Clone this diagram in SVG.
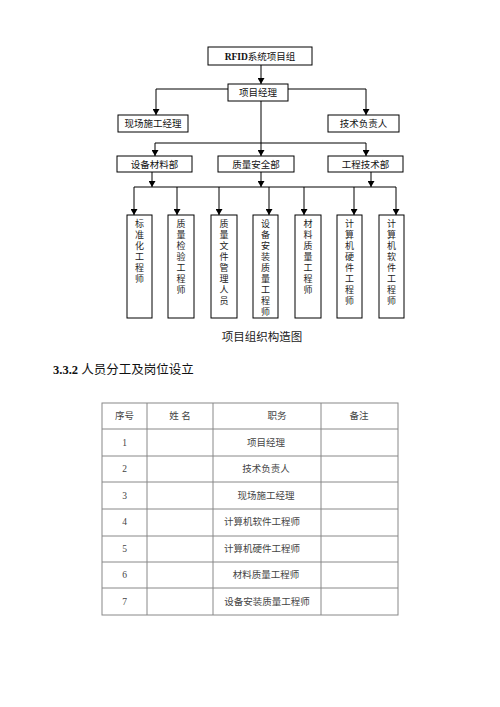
<svg xmlns="http://www.w3.org/2000/svg" width="500" height="707" viewBox="0 0 500 707">
<defs>
<marker id="ah" markerWidth="6" markerHeight="7" refX="6" refY="3.5" orient="auto" markerUnits="userSpaceOnUse">
<path d="M0,0 L6,3.5 L0,7 Z" fill="#000"/>
</marker>
<style>
.box{fill:#fff;stroke:#000;stroke-width:1}
.t{font-family:"Liberation Serif","Noto Sans CJK SC",serif;font-size:9.5px;fill:#111;text-anchor:middle}
.v{font-family:"Noto Sans CJK SC",serif;font-size:9px;fill:#222;writing-mode:vertical-rl;letter-spacing:2px}
.c{stroke:#000;stroke-width:1;fill:none}
.a{stroke:#000;stroke-width:1;fill:none;marker-end:url(#ah)}
.tb{stroke:#888;stroke-width:1;fill:none}
.tt{font-family:"Liberation Serif","Noto Sans CJK SC",serif;font-size:9.5px;fill:#444;text-anchor:middle}
</style>
</defs>
<rect width="500" height="707" fill="#fff"/>
<g id="connectors">
<line class="a" x1="261" y1="65" x2="261" y2="84"/>
<line class="c" x1="156" y1="89" x2="366" y2="89"/>
<line class="a" x1="156" y1="89" x2="156" y2="115"/>
<line class="a" x1="366" y1="89" x2="366" y2="115"/>
<line class="a" x1="261" y1="101" x2="261" y2="156"/>
<line class="c" x1="155" y1="143" x2="366" y2="143"/>
<line class="a" x1="155" y1="143" x2="155" y2="156"/>
<line class="a" x1="366" y1="143" x2="366" y2="156"/>
<line class="a" x1="152" y1="172" x2="152" y2="187"/>
<line class="a" x1="261" y1="172" x2="261" y2="187"/>
<line class="a" x1="371" y1="172" x2="371" y2="187"/>
<line class="c" x1="134" y1="187" x2="396" y2="187"/>
<line class="a" x1="134" y1="187" x2="134" y2="215"/>
<line class="a" x1="177" y1="187" x2="177" y2="215"/>
<line class="a" x1="219" y1="187" x2="219" y2="215"/>
<line class="a" x1="269" y1="187" x2="269" y2="215"/>
<line class="a" x1="304" y1="187" x2="304" y2="215"/>
<line class="a" x1="354" y1="187" x2="354" y2="215"/>
<line class="a" x1="396" y1="187" x2="396" y2="215"/>
</g>
<g id="n-rfid"><rect class="box" x="208" y="47" width="104" height="18"/><text class="t" x="260" y="59.5" font-weight="bold">RFID<tspan font-weight="normal">系统项目组</tspan></text></g>
<g id="n-pm"><rect class="box" x="228" y="84" width="60" height="17"/><text class="t" x="258" y="96">项目经理</text></g>
<g id="n-site"><rect class="box" x="118" y="115" width="70" height="17"/><text class="t" x="153" y="127">现场施工经理</text></g>
<g id="n-tech"><rect class="box" x="328" y="115" width="71" height="17"/><text class="t" x="363.5" y="127">技术负责人</text></g>
<g id="n-equip"><rect class="box" x="117" y="156" width="75" height="16"/><text class="t" x="154.5" y="167.5">设备材料部</text></g>
<g id="n-qa"><rect class="box" x="218" y="156" width="76" height="16"/><text class="t" x="256" y="167.5">质量安全部</text></g>
<g id="n-eng"><rect class="box" x="328" y="156" width="75" height="16"/><text class="t" x="365.5" y="167.5">工程技术部</text></g>
<g id="n-s1"><rect class="box" x="127" y="215" width="25" height="103"/><text class="v" x="139.5" y="219.5">标准化工程师</text></g>
<g id="n-s2"><rect class="box" x="168" y="215" width="26" height="103"/><text class="v" x="181" y="219.5">质量检验工程师</text></g>
<g id="n-s3"><rect class="box" x="211" y="215" width="26" height="103"/><text class="v" x="224" y="219.5">质量文件管理人员</text></g>
<g id="n-s4"><rect class="box" x="253" y="215" width="25" height="103"/><text class="v" x="265.5" y="219.5">设备安装质量工程师</text></g>
<g id="n-s5"><rect class="box" x="295" y="215" width="26" height="103"/><text class="v" x="308" y="219.5">材料质量工程师</text></g>
<g id="n-s6"><rect class="box" x="337" y="215" width="25" height="103"/><text class="v" x="349.5" y="219.5">计算机硬件工程师</text></g>
<g id="n-s7"><rect class="box" x="379" y="215" width="25" height="103"/><text class="v" x="391.5" y="219.5">计算机软件工程师</text></g>
<text x="262" y="340.5" font-family="Noto Sans CJK SC,serif" font-size="11.5" fill="#222" text-anchor="middle">项目组织构造图</text>
<text x="53" y="373.5" font-family="Liberation Serif,Noto Sans CJK SC,serif" font-size="12.5" font-weight="bold" fill="#111">3.3.2  <tspan font-family="Noto Sans CJK SC,serif" font-weight="normal">人员分工及岗位设立</tspan></text>
<g id="table">
<rect class="tb" x="102" y="403" width="296" height="212"/>
<line class="tb" x1="147" y1="403" x2="147" y2="615"/>
<line class="tb" x1="213" y1="403" x2="213" y2="615"/>
<line class="tb" x1="321" y1="403" x2="321" y2="615"/>
<line class="tb" x1="102" y1="429" x2="398" y2="429"/>
<line class="tb" x1="102" y1="456" x2="398" y2="456"/>
<line class="tb" x1="102" y1="482" x2="398" y2="482"/>
<line class="tb" x1="102" y1="509" x2="398" y2="509"/>
<line class="tb" x1="102" y1="536" x2="398" y2="536"/>
<line class="tb" x1="102" y1="562" x2="398" y2="562"/>
<line class="tb" x1="102" y1="588" x2="398" y2="588"/>
<text class="tt" x="124.5" y="419">序号</text>
<text class="tt" x="180" y="419">姓 名</text>
<text class="tt" x="277" y="419">职务</text>
<text class="tt" x="359" y="419">备注</text>
<text class="tt" x="124.5" y="446">1</text><text class="tt" x="266" y="446">项目经理</text>
<text class="tt" x="124.5" y="472">2</text><text class="tt" x="266" y="472">技术负责人</text>
<text class="tt" x="124.5" y="499">3</text><text class="tt" x="266" y="499">现场施工经理</text>
<text class="tt" x="124.5" y="525">4</text><text class="tt" x="262" y="525">计算机软件工程师</text>
<text class="tt" x="124.5" y="552">5</text><text class="tt" x="262" y="552">计算机硬件工程师</text>
<text class="tt" x="124.5" y="578">6</text><text class="tt" x="266" y="578">材料质量工程师</text>
<text class="tt" x="124.5" y="605">7</text><text class="tt" x="267" y="605">设备安装质量工程师</text>
</g>
</svg>
